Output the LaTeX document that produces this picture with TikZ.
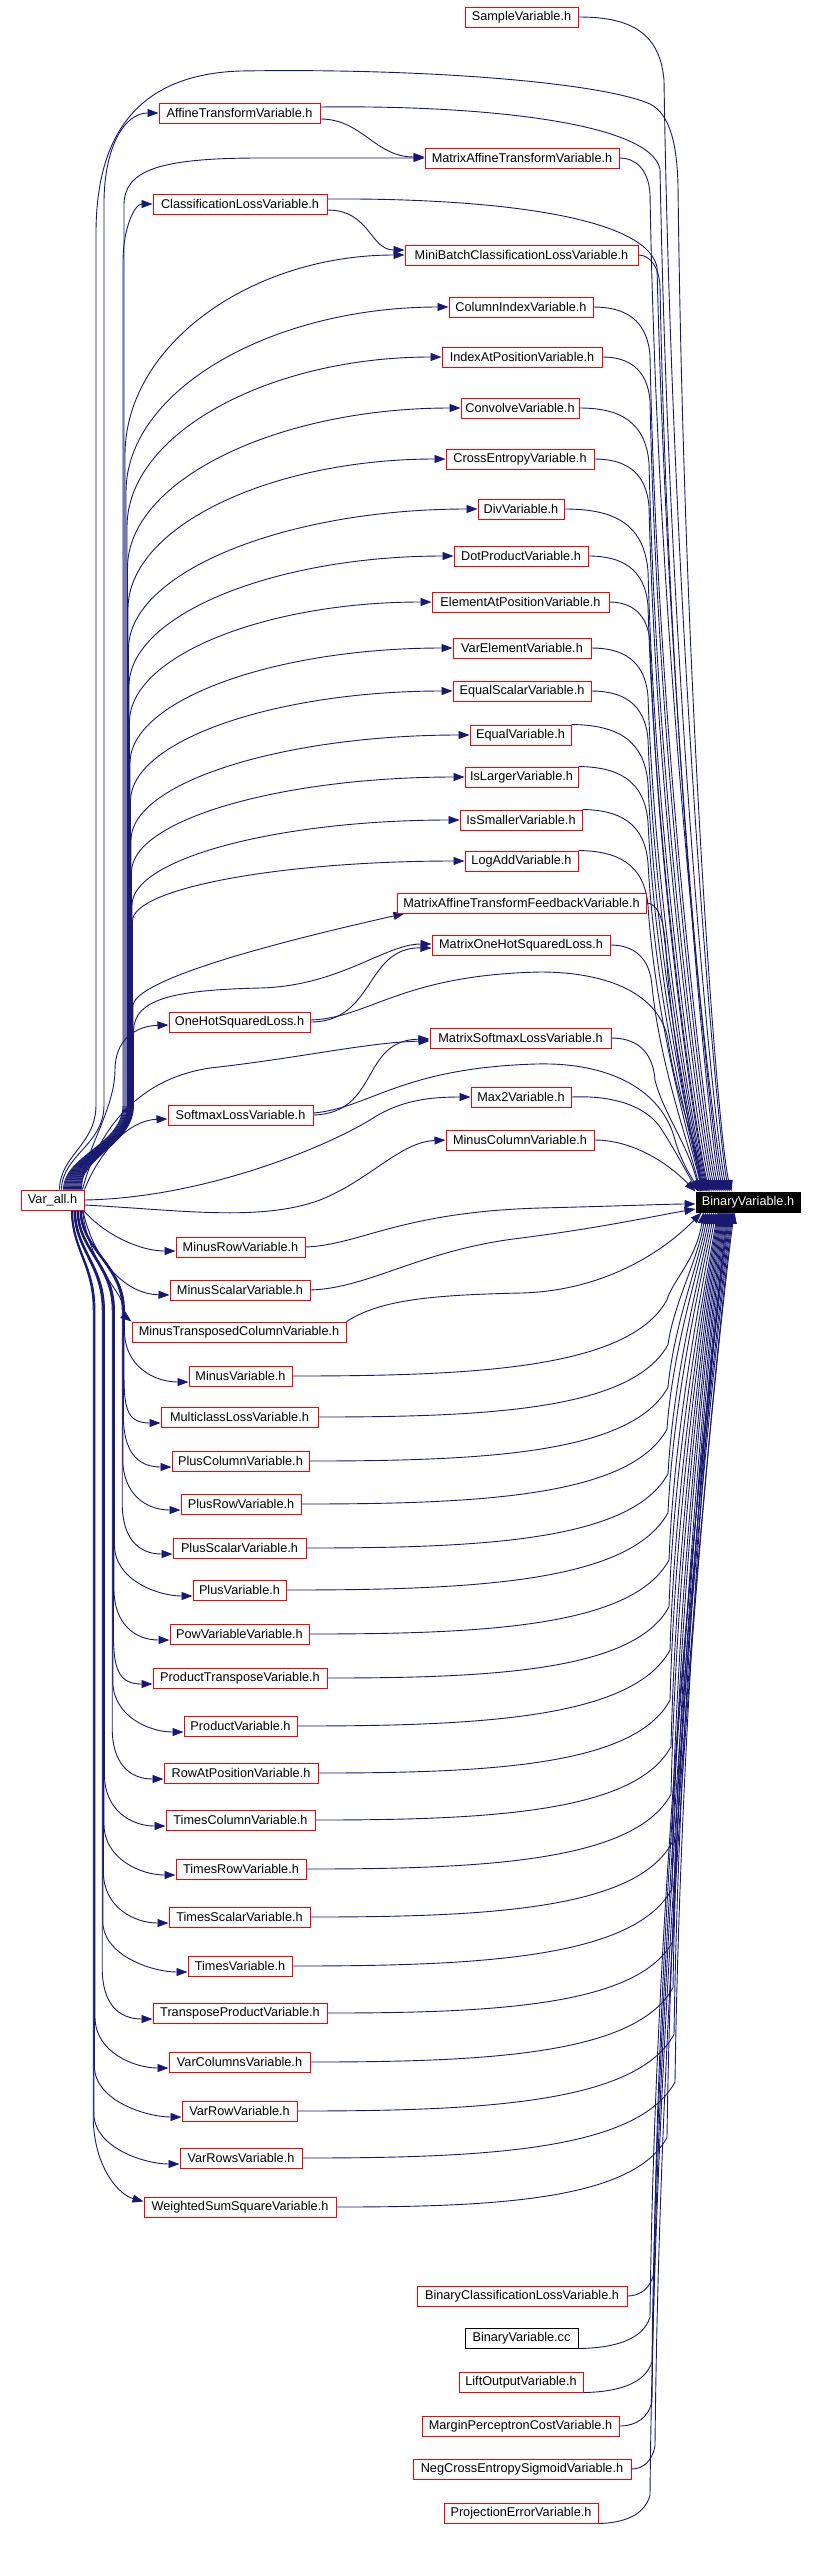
\documentclass[tikz,border=0pt]{standalone}
\usepackage{fontspec}
\setmainfont{Liberation Sans}
\usetikzlibrary{arrows.meta,backgrounds}
\definecolor{edgeblue}{RGB}{25,25,112}
\definecolor{nodered}{RGB}{255,0,0}
\tikzset{
  hnode/.style={draw=nodered, line width=1pt, fill=white, inner sep=0pt, minimum height=20pt, font=\fontsize{12.7}{15}\selectfont, text=black},
  edge/.style={draw=edgeblue, line width=0.9pt, -{Triangle[length=11pt,width=8pt]}}
}
\newcommand\NY[1]{\csname NY@#1\endcsname}
\newcommand\NL[1]{\csname NL@#1\endcsname}
\newcommand\NR[1]{\csname NR@#1\endcsname}
% node maker: [style]{name}{cx}{cy}{width}{label}
\newcommand\mk[6][]{%
  \node[hnode,#1,minimum width=#5pt] (#2) at (#3,#4) {#6};%
  \pgfmathsetmacro\tmpa{#3-#5/2}\pgfmathsetmacro\tmpb{#3+#5/2}%
  \expandafter\xdef\csname NY@#2\endcsname{#4}%
  \expandafter\xdef\csname NL@#2\endcsname{\tmpa}%
  \expandafter\xdef\csname NR@#2\endcsname{\tmpb}%
}
% Var_all -> target above: {target}{start x}{bundle x}{branch height}
\newcommand\VaUp[4]{%
  \pgfmathsetmacro\sx{#2-21}%
  \pgfmathsetmacro\yt{\NY{#1}}%
  \pgfmathsetmacro\xt{\NL{#1}}%
  \pgfmathsetmacro\yb{\yt+#4}%
  \pgfmathsetmacro\yc{\yt+0.45*#4}%
  \pgfmathsetmacro\xc{#3+0.45*(\xt-#3)}%
  \draw[edge] ([xshift=\sx pt]varall.north west) .. controls (#2,1155) and (#3,1145) .. (#3,1105) -- (#3,\yb) .. controls (#3,\yc) and (\xc,\yt) .. (#1.west);%
}
% Var_all -> target below: {target}{start x}{bundle x}
\newcommand\VaDn[3]{%
  \pgfmathsetmacro\sx{#2-21}%
  \pgfmathsetmacro\yt{\NY{#1}}%
  \pgfmathsetmacro\xt{\NL{#1}}%
  \pgfmathsetmacro\yb{\yt-45}%
  \pgfmathsetmacro\yc{\yt-10}%
  \pgfmathsetmacro\xc{\xt-35}%
  \pgfmathsetmacro\ye{\yt+6}%
  \draw[edge] ([xshift=\sx pt]varall.south west) .. controls (#2,1250) and (#3,1265) .. (#3,1310) -- (#3,\yb) .. controls (#3,\yc) and (\xc,\ye) .. ([yshift=-6pt]#1.west);%
}
% node above -> top of BinaryVariable.h: {node}{anchor}{dy}{bend x}{end offset}
\newcommand\ToBinTop[5]{%
  \pgfmathsetmacro\xs{\NR{#1}}%
  \pgfmathsetmacro\ys{\NY{#1}+#3}%
  \pgfmathsetmacro\dd{#4-\xs}%
  \pgfmathsetmacro\xa{\xs+0.55*\dd}%
  \pgfmathsetmacro\xb{#4-0.05*\dd}%
  \pgfmathsetmacro\yq{\ys+12}%
  \pgfmathsetmacro\yp{\ys+20+0.5*\dd}%
  \pgfmathsetmacro\xr{#4+8}%
  \pgfmathsetmacro\ym{(\yp+1145)/2}%
  \pgfmathsetmacro\xe{696+#5-12}%
  \draw[edge] (#1.#2) .. controls (\xa,\ys) and (\xb,\yq) .. (#4,\yp) .. controls (\xr,\ym) and (\xe,1145) .. ([xshift=#5pt]bin.north west);%
}
% node below -> bottom of BinaryVariable.h
\newcommand\ToBinBot[5]{%
  \pgfmathsetmacro\xs{\NR{#1}}%
  \pgfmathsetmacro\ys{\NY{#1}+#3}%
  \pgfmathsetmacro\dd{#4-\xs}%
  \pgfmathsetmacro\xa{\xs+0.5*\dd}%
  \pgfmathsetmacro\xb{#4-0.1*\dd}%
  \pgfmathsetmacro\yq{\ys-8}%
  \pgfmathsetmacro\yp{\ys-20-0.15*\dd}%
  \pgfmathsetmacro\xr{#4+6}%
  \pgfmathsetmacro\ym{(\yp+1260)/2}%
  \pgfmathsetmacro\xe{696+#5-8}%
  \draw[edge] (#1.#2) .. controls (\xa,\ys) and (\xb,\yq) .. (#4,\yp) .. controls (\xr,\ym) and (\xe,1260) .. ([xshift=#5pt]bin.south west);%
}
\begin{document}
\begin{tikzpicture}[x=1pt,y=-1pt]
\useasboundingbox (0,0) rectangle (814,2560);
% ---------- nodes ----------
\mk{sample}{521.5}{17}{113}{SampleVariable.h}
\mk{affine}{239.5}{113}{161}{AffineTransformVariable.h}
\mk{maff}{522}{158}{194}{MatrixAffineTransformVariable.h}
\mk{closs}{240}{204}{174}{ClassificationLossVariable.h}
\mk{mbatch}{521.5}{255}{233}{MiniBatchClassificationLossVariable.h}
\mk{colidx}{521}{307}{144}{ColumnIndexVariable.h}
\mk{idxpos}{522}{357}{160}{IndexAtPositionVariable.h}
\mk{conv}{520}{408}{118}{ConvolveVariable.h}
\mk{xent}{520}{459}{148}{CrossEntropyVariable.h}
\mk{div}{521}{509}{86}{DivVariable.h}
\mk{dot}{521}{556}{134}{DotProductVariable.h}
\mk{elpos}{520.5}{602}{177}{ElementAtPositionVariable.h}
\mk{varel}{522}{648}{138}{VarElementVariable.h}
\mk{eqsc}{522}{691}{138}{EqualScalarVariable.h}
\mk{eq}{520.5}{735}{101}{EqualVariable.h}
\mk{isl}{521.5}{777}{113}{IsLargerVariable.h}
\mk{iss}{521}{820}{122}{IsSmallerVariable.h}
\mk{logadd}{521.5}{861}{113}{LogAddVariable.h}
\mk{mafb}{521.5}{903}{249}{MatrixAffineTransformFeedbackVariable.h}
\mk{mohs}{521}{945}{178}{MatrixOneHotSquaredLoss.h}
\mk{ohs}{239.5}{1022}{141}{OneHotSquaredLoss.h}
\mk{msoft}{520.5}{1038}{181}{MatrixSoftmaxLossVariable.h}
\mk{max2}{521}{1097}{100}{Max2Variable.h}
\mk{soft}{240.5}{1115}{145}{SoftmaxLossVariable.h}
\mk{mcol}{520}{1140}{148}{MinusColumnVariable.h}
\mk{varall}{52.5}{1200}{63}{Var\_all.h}
\mk[draw=black,fill=black,text=white]{bin}{748}{1202}{104}{BinaryVariable.h}
\mk{mrow}{240.5}{1247}{129}{MinusRowVariable.h}
\mk{msc}{240}{1290}{140}{MinusScalarVariable.h}
\mk{mtc}{239}{1332}{214}{MinusTransposedColumnVariable.h}
\mk{minus}{240.5}{1376}{103}{MinusVariable.h}
\mk{mcl}{239.5}{1417}{157}{MulticlassLossVariable.h}
\mk{pcol}{240.5}{1461}{137}{PlusColumnVariable.h}
\mk{prow}{241}{1504}{120}{PlusRowVariable.h}
\mk{psc}{239.5}{1548}{133}{PlusScalarVariable.h}
\mk{plus}{239.5}{1590}{93}{PlusVariable.h}
\mk{pow}{239.5}{1634}{139}{PowVariableVariable.h}
\mk{ptr}{240}{1678}{174}{ProductTransposeVariable.h}
\mk{prod}{240.5}{1726}{113}{ProductVariable.h}
\mk{rowpos}{241}{1773}{154}{RowAtPositionVariable.h}
\mk{tcol}{240.5}{1820}{149}{TimesColumnVariable.h}
\mk{trow}{241}{1869}{130}{TimesRowVariable.h}
\mk{tsc}{239.5}{1917}{141}{TimesScalarVariable.h}
\mk{times}{240}{1966}{104}{TimesVariable.h}
\mk{tprod}{240}{2013}{174}{TransposeProductVariable.h}
\mk{vcols}{239.5}{2062}{141}{VarColumnsVariable.h}
\mk{vrow}{239.5}{2111}{115}{VarRowVariable.h}
\mk{vrows}{241}{2158}{122}{VarRowsVariable.h}
\mk{wss}{240}{2207}{192}{WeightedSumSquareVariable.h}
\mk{bcl}{522}{2296}{210}{BinaryClassificationLossVariable.h}
\mk[draw=black]{bcc}{521.5}{2338}{113}{BinaryVariable.cc}
\mk{lift}{521}{2382}{124}{LiftOutputVariable.h}
\mk{mpc}{520.5}{2426}{197}{MarginPerceptronCostVariable.h}
\mk{ncs}{522}{2469}{218}{NegCrossEntropySigmoidVariable.h}
\mk{proj}{521}{2513}{154}{ProjectionErrorVariable.h}
% ---------- edges ----------
\begin{scope}[on background layer]
\fill[white] (0,0) rectangle (814,2560);
% Var_all -> nodes above it
\draw[edge] ([xshift=39pt]varall.north west) .. controls (60,1155) and (96,1145) .. (96,1105) -- (96,230) .. controls (97,150) and (125,75) .. (240,71) .. controls (420,68) and (600,82) .. (650,104) .. controls (672,115) and (677,150) .. (678,185) .. controls (684,700) and (718,1140) .. ([xshift=36pt]bin.north west);
\draw[edge] ([xshift=41pt]varall.north west) .. controls (62,1155) and (104,1145) .. (104,1105) -- (104,200) .. controls (105,145) and (125,113) .. (affine.west);
\draw[edge] ([xshift=43pt]varall.north west) .. controls (64,1155) and (123,1145) .. (123,1105) -- (123,262) .. controls (123,227) and (135,204) .. (closs.west);
\draw[edge] ([xshift=44pt]varall.north west) .. controls (65,1155) and (124,1145) .. (124,1105) -- (124,205) .. controls (124,170) and (160,158) .. (260,158) -- (maff.west);
\VaUp{mbatch}{66}{125}{200}
\VaUp{colidx}{67}{126}{185}
\VaUp{idxpos}{68}{127}{170}
\VaUp{conv}{69}{127.5}{160}
\VaUp{xent}{70}{128}{150}
\VaUp{div}{71}{128.5}{140}
\VaUp{dot}{72}{129}{130}
\VaUp{elpos}{73}{129.5}{120}
\VaUp{varel}{74}{130}{115}
\VaUp{eqsc}{75}{130.5}{110}
\VaUp{eq}{76}{131}{105}
\VaUp{isl}{77}{131.5}{95}
\VaUp{iss}{78}{132}{85}
\VaUp{logadd}{79}{132.5}{60}
\draw[edge] ([xshift=59pt]varall.north west) .. controls (80,1155) and (133,1145) .. (133,1105) -- (133,1005) .. controls (136,985) and (220,955) .. ([xshift=8pt]mafb.south west);
\draw[edge] ([xshift=60pt]varall.north west) .. controls (81,1155) and (133.5,1145) .. (133.5,1105) -- (133.5,1030) .. controls (135,1000) and (170,990) .. (260,988) .. controls (340,986) and (385,944) .. ([yshift=1pt]mohs.west);
\draw[edge] ([xshift=61pt]varall.north west) .. controls (82,1155) and (115,1110) .. (115,1070) .. controls (115,1040) and (135,1026) .. ([yshift=-3pt]ohs.west);
\draw[edge] ([xshift=62pt]varall.north west) .. controls (95,1140) and (130,1080) .. (210,1068) .. controls (300,1058) and (370,1042) .. ([yshift=-3pt]msoft.west);
\draw[edge] (varall.north east) .. controls (100,1150) and (130,1120) .. ([yshift=-4pt]soft.west);
\draw[edge] (varall.east) .. controls (200,1198) and (320,1150) .. (370,1120) .. controls (400,1100) and (430,1097) .. (max2.west);
\draw[edge] ([yshift=-5pt]varall.east) .. controls (180,1210) and (260,1222) .. (320,1200) .. controls (370,1180) and (400,1142) .. (mcol.west);
% Var_all -> nodes below it
\draw[edge] ([xshift=63pt]varall.south west) .. controls (105,1235) and (140,1251) .. ([yshift=-4pt]mrow.west);
\draw[edge] ([xshift=62.5pt]varall.south west) .. controls (92,1255) and (122,1294) .. ([yshift=-5pt]msc.west);
\draw[edge] ([xshift=62pt]varall.south west) .. controls (88,1260) and (118,1290) .. (121,1300) .. controls (124,1310) and (127,1318) .. (mtc.north west);
\VaDn{minus}{82}{124.5}
\VaDn{mcl}{81.6}{124}
\VaDn{pcol}{81.2}{123.4}
\VaDn{prow}{80.8}{122.8}
\VaDn{psc}{80.4}{122.2}
\VaDn{plus}{79}{114.5}
\VaDn{pow}{78.6}{114}
\VaDn{ptr}{78.2}{113.4}
\VaDn{prod}{77.8}{112.8}
\VaDn{rowpos}{77.4}{112.2}
\VaDn{tcol}{76}{104.5}
\VaDn{trow}{75.6}{104}
\VaDn{tsc}{75.2}{103.4}
\VaDn{times}{74.8}{102.8}
\VaDn{tprod}{74.4}{102.2}
\VaDn{vcols}{73}{95}
\VaDn{vrow}{72.6}{94.4}
\VaDn{vrows}{72.2}{93.8}
\draw[edge] ([xshift=50.8pt]varall.south west) .. controls (71.8,1250) and (93.2,1265) .. (93.2,1310) -- (93.2,2120) .. controls (95,2170) and (120,2195) .. ([yshift=-5pt]wss.north west);
% second-level includes
\draw[edge] ([yshift=-6pt]affine.east) .. controls (362,119) and (375,157) .. ([yshift=1pt]maff.west);
\draw[edge] ([yshift=-6pt]closs.east) .. controls (370,210) and (370,250) .. ([yshift=5pt]mbatch.west);
\draw[edge] (ohs.east) .. controls (375,1022) and (365,947) .. ([yshift=-3pt]mohs.west);
\draw[edge] (soft.east) .. controls (380,1113) and (360,1040) .. ([yshift=-1pt]msoft.west);
% upper nodes -> BinaryVariable.h
\draw[edge] ([yshift=6pt]affine.east) .. controls (480,105) and (650,122) .. (660,169) .. controls (670,700) and (716,1145) .. ([xshift=32pt]bin.north west);
\draw[edge] ([yshift=5pt]closs.east) .. controls (470,198) and (645,212) .. (657,267) .. controls (668,720) and (712,1145) .. ([xshift=28pt]bin.north west);
\ToBinTop{sample}{east}{0}{664}{34}
\ToBinTop{maff}{east}{0}{650}{30}
\ToBinTop{mbatch}{east}{0}{660}{26}
\ToBinTop{colidx}{east}{0}{650}{24}
\ToBinTop{idxpos}{east}{0}{650}{22}
\ToBinTop{conv}{east}{0}{649}{20}
\ToBinTop{xent}{east}{0}{649}{18}
\ToBinTop{div}{east}{0}{648}{16}
\ToBinTop{dot}{east}{0}{648}{14}
\ToBinTop{elpos}{east}{0}{650}{13}
\ToBinTop{varel}{east}{0}{648}{12}
\ToBinTop{eqsc}{east}{0}{648}{11}
\ToBinTop{eq}{north east}{-10}{648}{10}
\ToBinTop{isl}{north east}{-10}{648}{9}
\ToBinTop{iss}{north east}{-10}{648}{8}
\ToBinTop{logadd}{north east}{-10}{648}{7}
\draw[edge] (mafb.east) .. controls (656,903) and (664,915) .. (666,950) .. controls (672,1050) and (694,1145) .. ([xshift=6pt]bin.north west);
\ToBinTop{mohs}{east}{0}{652}{5}
\ToBinTop{msoft}{east}{0}{655}{4}
\draw[edge] ([yshift=2pt]ohs.east) .. controls (370,1018) and (400,975) .. (540,972) .. controls (610,972) and (660,995) .. (668,1040) .. controls (676,1100) and (700,1150) .. ([xshift=5pt]bin.north west);
\draw[edge] ([yshift=2pt]soft.east) .. controls (370,1108) and (400,1068) .. (536,1064) .. controls (610,1062) and (662,1090) .. (675,1140) .. controls (681,1162) and (692,1178) .. ([xshift=4pt]bin.north west);
\draw[edge] (max2.east) .. controls (615,1095) and (648,1107) .. (662,1130) .. controls (675,1150) and (688,1175) .. ([xshift=3pt]bin.north west);
\draw[edge] (mcol.east) .. controls (630,1140) and (665,1160) .. (bin.north west);
% lower nodes -> BinaryVariable.h
\draw[edge] (mrow.east) .. controls (360,1245) and (400,1212) .. (540,1208) .. controls (620,1206) and (670,1204) .. ([yshift=-2pt]bin.west);
\draw[edge] (msc.east) .. controls (370,1288) and (420,1250) .. (521,1238) .. controls (600,1228) and (660,1215) .. ([yshift=-7pt]bin.west);
\draw[edge] (mtc.north east) .. controls (380,1300) and (430,1295) .. (521,1293) .. controls (600,1291) and (660,1255) .. ([xshift=6pt]bin.south west);
\ToBinBot{minus}{east}{0}{667}{8}
\ToBinBot{mcl}{east}{0}{668}{10}
\ToBinBot{pcol}{east}{0}{668}{12}
\ToBinBot{prow}{east}{0}{667}{14}
\ToBinBot{psc}{east}{0}{668}{16}
\ToBinBot{plus}{east}{0}{668}{18}
\ToBinBot{pow}{east}{0}{669}{20}
\ToBinBot{ptr}{east}{0}{669}{22}
\ToBinBot{prod}{east}{0}{670}{23}
\ToBinBot{rowpos}{east}{0}{670}{24}
\ToBinBot{tcol}{east}{0}{671}{25}
\ToBinBot{trow}{east}{0}{671}{26}
\ToBinBot{tsc}{east}{0}{672}{27}
\ToBinBot{times}{east}{0}{672}{28}
\ToBinBot{tprod}{east}{0}{673}{29}
\ToBinBot{vcols}{east}{0}{673}{30}
\ToBinBot{vrow}{east}{0}{674}{31}
\ToBinBot{vrows}{east}{0}{675}{32}
\ToBinBot{wss}{east}{0}{667}{33}
\ToBinBot{bcl}{east}{0}{654}{34}
\ToBinBot{bcc}{south east}{10}{650}{35}
\ToBinBot{lift}{south east}{10}{652}{36}
\ToBinBot{mpc}{east}{0}{652}{37}
\ToBinBot{ncs}{east}{0}{655}{38}
\ToBinBot{proj}{south east}{10}{650}{39}
\end{scope}
\end{tikzpicture}
\end{document}
